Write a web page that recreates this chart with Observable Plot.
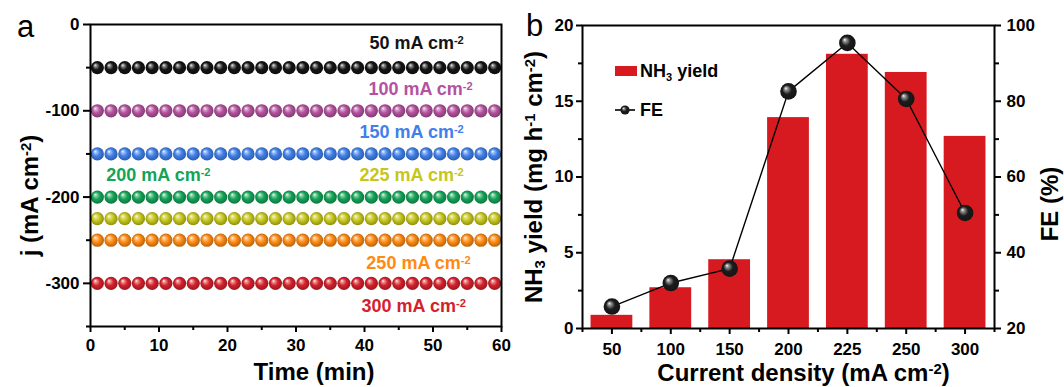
<!DOCTYPE html>
<html>
<head>
<meta charset="utf-8">
<script src="https://cdn.jsdelivr.net/npm/d3@7"></script>
<script src="https://cdn.jsdelivr.net/npm/@observablehq/plot@0.6"></script>
<style>
  body { margin: 0; background: #fff; }
  #fig { position: relative; width: 1064px; height: 387px; overflow: hidden;
         font-family: "Liberation Sans", Arial, sans-serif; color: #000; }
  #fig > svg { position: absolute; top: 0; }
  .tag { position: absolute; font-size: 31px; line-height: 1; }
  .lg { position: absolute; font-size: 18px; font-weight: bold; line-height: 1; white-space: nowrap; }
  .lg sub { font-size: 11px; vertical-align: -4px; }
</style>
</head>
<body>
<div id="fig"></div>
<script>
// ---------- Panel a: chronopotentiometry at fixed current densities ----------
const times = [1, 3, 5, 7, 9, 11, 13, 15, 17, 19, 21, 23, 25, 27, 29, 31, 33, 35, 37, 39, 41, 43, 45, 47, 49, 51, 53, 55, 57, 59];
const j50  = [-50, -50, -50, -50, -50, -50, -50, -50, -50, -50, -50, -50, -50, -50, -50, -50, -50, -50, -50, -50, -50, -50, -50, -50, -50, -50, -50, -50, -50, -50];
const j100 = [-100, -100, -100, -100, -100, -100, -100, -100, -100, -100, -100, -100, -100, -100, -100, -100, -100, -100, -100, -100, -100, -100, -100, -100, -100, -100, -100, -100, -100, -100];
const j150 = [-150, -150, -150, -150, -150, -150, -150, -150, -150, -150, -150, -150, -150, -150, -150, -150, -150, -150, -150, -150, -150, -150, -150, -150, -150, -150, -150, -150, -150, -150];
const j200 = [-200, -200, -200, -200, -200, -200, -200, -200, -200, -200, -200, -200, -200, -200, -200, -200, -200, -200, -200, -200, -200, -200, -200, -200, -200, -200, -200, -200, -200, -200];
const j225 = [-225, -225, -225, -225, -225, -225, -225, -225, -225, -225, -225, -225, -225, -225, -225, -225, -225, -225, -225, -225, -225, -225, -225, -225, -225, -225, -225, -225, -225, -225];
const j250 = [-250, -250, -250, -250, -250, -250, -250, -250, -250, -250, -250, -250, -250, -250, -250, -250, -250, -250, -250, -250, -250, -250, -250, -250, -250, -250, -250, -250, -250, -250];
const j300 = [-300, -300, -300, -300, -300, -300, -300, -300, -300, -300, -300, -300, -300, -300, -300, -300, -300, -300, -300, -300, -300, -300, -300, -300, -300, -300, -300, -300, -300, -300];
const seriesNames = ["50", "100", "150", "200", "225", "250", "300"];
const seriesValues = [j50, j100, j150, j200, j225, j250, j300];
const seriesColors = ["#141414", "#b4529f", "#3f80ea", "#14a457", "#c6c61c", "#ff8a12", "#d5212b"];

const xTicksA = [0, 10, 20, 30, 40, 50, 60];
const xMinorA = [5, 15, 25, 35, 45, 55];
const yTicksA = [0, -100, -200, -300];
const yMinorA = [-50, -150, -250, -350];

// ---------- Panel b: NH3 yield and Faradaic efficiency ----------
const categories = ["50", "100", "150", "200", "225", "250", "300"];
const nh3Yield = [0.87, 2.69, 4.54, 13.92, 18.1, 16.9, 12.68];
const fe = [25.8, 32.0, 35.8, 82.6, 95.4, 80.6, 50.5];
const yTicksB = [0, 5, 10, 15, 20];
const yMinorB = [2.5, 7.5, 12.5, 17.5];
const feTicks = [20, 40, 60, 80, 100];
const feMinor = [30, 50, 70, 90];

const barColor = "#d71a1f";
const font = "'Liberation Sans', Arial, sans-serif";

// label placement for the current-density annotations (offset in j, anchor time)
const labelOffset = [28, 25.5, 25, 25, 50, -27, -26];
const labelTime = [54.5, 55.8, 54.5, 2.3, 54.5, 55.5, 54.8];
const labelAnchor = ["end", "end", "end", "start", "end", "end", "end"];

const fig = document.getElementById("fig");

// shaded-sphere gradients for the dot markers
const defsSvg = d3.select(fig).append("svg").attr("width", 0).attr("height", 0);
const defs = defsSvg.append("defs");
function sphere(id, base) {
  const c = d3.color(base);
  const light = d3.interpolateRgb(base, "#ffffff")(0.55);
  const dark = c.darker(1.1).formatHex();
  const g = defs.append("radialGradient").attr("id", id)
    .attr("cx", 0.5).attr("cy", 0.5).attr("r", 0.55).attr("fx", 0.33).attr("fy", 0.3);
  g.append("stop").attr("offset", 0).attr("stop-color", "#ffffff");
  g.append("stop").attr("offset", 0.16).attr("stop-color", light);
  g.append("stop").attr("offset", 0.5).attr("stop-color", base);
  g.append("stop").attr("offset", 1).attr("stop-color", dark);
}
seriesColors.forEach((c, i) => sphere("sph-a" + i, c));
sphere("sph-fe", "#1c1c1c");

// turn ^{..} and _{..} into raised / lowered tspans
function richText(svg) {
  svg.querySelectorAll("text").forEach((t) => {
    const s = t.textContent;
    if (!/[\^_]\{/.test(s)) return;
    t.textContent = "";
    s.split(/([\^_]\{[^}]*\})/).forEach((part) => {
      if (!part) return;
      const ts = document.createElementNS("http://www.w3.org/2000/svg", "tspan");
      if (part[0] === "^" || part[0] === "_") {
        ts.textContent = part.slice(2, -1);
        ts.setAttribute("font-size", "62%");
        ts.setAttribute("baseline-shift", part[0] === "^" ? "48%" : "-22%");
      } else {
        ts.textContent = part;
      }
      t.appendChild(ts);
    });
  });
}

const titleStyle = {fontSize: 24, fontWeight: "bold", textAnchor: "middle", lineAnchor: "middle"};

// ---------- draw panel a ----------
const dotMarks = seriesValues.map((vals, i) =>
  Plot.dot(times.map((t, k) => ({t, j: vals[k]})), {x: "t", y: "j", r: 6.6, fill: `url(#sph-a${i})`})
);
const labelRows = seriesNames.map((n, i) => ({
  text: `${n} mA cm^{-2}`, t: labelTime[i], j: seriesValues[i][0] + labelOffset[i], color: seriesColors[i], anchor: labelAnchor[i]
}));

const plotA = Plot.plot({
  width: 520, height: 387,
  marginLeft: 90, marginRight: 19, marginTop: 24, marginBottom: 61,
  style: {fontFamily: font, fontSize: "17px", fontWeight: "bold", color: "#000", background: "transparent", overflow: "visible"},
  x: {domain: [0, 60]},
  y: {domain: [-350, 0]},
  marks: [
    Plot.axisX({ticks: xTicksA, tickSize: 6, tickPadding: 6, strokeWidth: 2, tickFormat: (d) => String(d), label: null}),
    Plot.axisX({ticks: xMinorA, tickSize: 4, strokeWidth: 2, tickFormat: () => "", label: null}),
    Plot.axisY({ticks: yTicksA, tickSize: 7, tickPadding: 4, strokeWidth: 2, tickFormat: (d) => String(d), label: null}),
    Plot.axisY({ticks: yMinorA, tickSize: 4, strokeWidth: 2, tickFormat: () => "", label: null}),
    ...dotMarks,
    ...labelRows.map((r) => Plot.text([r], {x: "t", y: "j", text: "text", fill: r.color, textAnchor: r.anchor, fontSize: 18, fontWeight: "bold"})),
    Plot.frame({stroke: "#000", strokeWidth: 2}),
    Plot.text(["Time (min)"], {frameAnchor: "bottom", dx: 18, dy: 46, ...titleStyle}),
    Plot.text(["j (mA cm^{-2})"], {frameAnchor: "left", rotate: -90, dx: -60, dy: 20, ...titleStyle})
  ]
});
plotA.style.left = "0px";
richText(plotA);
fig.appendChild(plotA);

// ---------- draw panel b ----------
const rowsB = categories.map((c, i) => ({i, c, y: nh3Yield[i], fe: fe[i]}));
const feToY = (v) => (v - 20) / 4;  // FE (%) axis shares the yield axis: 20–100 % ↔ 0–20

const plotB = Plot.plot({
  width: 544, height: 387,
  marginLeft: 62, marginRight: 70, marginTop: 25, marginBottom: 59,
  style: {fontFamily: font, fontSize: "17px", fontWeight: "bold", color: "#000", background: "transparent", overflow: "visible"},
  x: {domain: [-0.5, 6.5]},
  y: {domain: [0, 20]},
  marks: [
    Plot.rectY(rowsB, {x1: (d) => d.i - 0.355, x2: (d) => d.i + 0.355, y: "y", fill: barColor}),
    Plot.line(rowsB, {x: "i", y: (d) => feToY(d.fe), stroke: "#000", strokeWidth: 1.4}),
    Plot.dot(rowsB, {x: "i", y: (d) => feToY(d.fe), r: 8.3, fill: "url(#sph-fe)"}),
    Plot.axisX({ticks: categories.map((c, i) => i), tickSize: 6, tickPadding: 8, strokeWidth: 2, tickFormat: (i) => categories[i], label: null}),
    Plot.axisX({ticks: [-0.5, 0.5, 1.5, 2.5, 3.5, 4.5, 5.5, 6.5], tickSize: 4, strokeWidth: 2, tickFormat: () => "", label: null}),
    Plot.axisY({ticks: yTicksB, tickSize: 6, tickPadding: 3, strokeWidth: 2, tickFormat: (d) => String(d), label: null}),
    Plot.axisY({ticks: yMinorB, tickSize: 4, strokeWidth: 2, tickFormat: () => "", label: null}),
    Plot.axisY({anchor: "right", ticks: feTicks.map(feToY), tickSize: 6, tickPadding: 6, strokeWidth: 2, tickFormat: (d) => String(d * 4 + 20), label: null}),
    Plot.axisY({anchor: "right", ticks: feMinor.map(feToY), tickSize: 4, strokeWidth: 2, tickFormat: () => "", label: null}),
    Plot.frame({stroke: "#000", strokeWidth: 2}),
    Plot.text(["Current density (mA cm^{-2})"], {frameAnchor: "bottom", dx: 15, dy: 45, ...titleStyle}),
    Plot.text(["NH_{3} yield (mg h^{-1} cm^{-2})"], {frameAnchor: "left", rotate: -90, dx: -48, dy: 0, ...titleStyle}),
    Plot.text(["FE (%)"], {frameAnchor: "right", rotate: -90, dx: 56, dy: 27, ...titleStyle})
  ]
});
plotB.style.left = "520px";
richText(plotB);
fig.appendChild(plotB);

// ---------- panel tags ----------
const tagA = document.createElement("div");
tagA.className = "tag"; tagA.textContent = "a";
tagA.style.left = "17px"; tagA.style.top = "11px";
fig.appendChild(tagA);
const tagB = document.createElement("div");
tagB.className = "tag"; tagB.textContent = "b";
tagB.style.left = "526px"; tagB.style.top = "10px";
fig.appendChild(tagB);

// ---------- legend for panel b ----------
const lg1 = document.createElement("div");
lg1.className = "lg"; lg1.style.left = "615px"; lg1.style.top = "62px";
lg1.innerHTML = `<span style="display:inline-block;width:22px;height:10px;background:${barColor};margin-right:3px;vertical-align:1px"></span>NH<sub>3</sub> yield`;
fig.appendChild(lg1);
const lg2 = document.createElement("div");
lg2.className = "lg"; lg2.style.left = "614px"; lg2.style.top = "101px";
lg2.innerHTML = `<svg width="24" height="16" style="vertical-align:-2px;margin-right:2px"><line x1="1" x2="7" y1="8" y2="8" stroke="#000" stroke-width="1.6"/><line x1="15" x2="21" y1="8" y2="8" stroke="#000" stroke-width="1.6"/><circle cx="11" cy="8" r="4.6" fill="url(#sph-fe)"/></svg>FE`;
fig.appendChild(lg2);
</script>
</body>
</html>
